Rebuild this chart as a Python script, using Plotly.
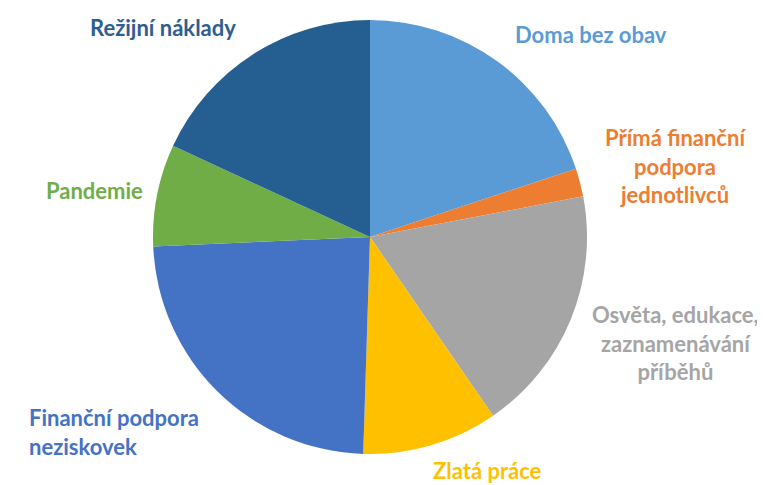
import plotly.graph_objects as go

categories = ["Doma bez obav", "Přímá finanční podpora jednotlivců", "Osvěta, edukace, zaznamenávání příběhů",
              "Zlatá práce", "Finanční podpora neziskovek", "Pandemie", "Režijní náklady"]
values = [19.9, 2.1, 18.4, 10.1, 23.8, 7.6, 18.1]
colors = ["#5B9BD5", "#ED7D31", "#A5A5A5", "#FFC000", "#4472C4", "#70AD47", "#255E91"]
label_texts = ["Doma bez obav", "Přímá finanční<br>podpora<br>jednotlivců", "Osvěta, edukace,<br>zaznamenávání<br>příběhů",
               "Zlatá práce", "Finanční podpora<br>neziskovek", "Pandemie", "Režijní náklady"]
text_colors = ["#5B9BD5", "#ED7D31", "#A5A5A5", "#FFC000", "#4472C4", "#70AD47", "#2E5E8E"]

W, H = 765, 485
cx, cy, r = 362, 229, 217

fig = go.Figure(go.Pie(
    labels=categories, values=values, sort=False, direction="clockwise", rotation=0,
    marker=dict(colors=colors, line=dict(width=0)),
    textinfo="none", hoverinfo="label+percent", showlegend=False,
    domain=dict(x=[(cx - r) / W, (cx + r) / W], y=[(H - cy - r) / H, (H - cy + r) / H]),
))

# label anchor points (pixel coordinates from top-left of the figure) and alignment
label_pos = [(583, 26, "center"), (667, 158, "center"), (667, 335, "center"),
             (479, 462, "center"), (19, 424, "left"), (86, 182, "center"), (155, 20, "center")]
for txt, col, (px, py, al) in zip(label_texts, text_colors, label_pos):
    fig.add_annotation(
        x=px / W, y=1 - py / H, xref="paper", yref="paper", text="<b>" + txt + "</b>",
        showarrow=False, xanchor=al, yanchor="middle", align=al,
        font=dict(family="Lato", size=22, color=col),
    )

fig.update_layout(width=W, height=H, margin=dict(l=0, r=0, t=0, b=0),
                  paper_bgcolor="white", plot_bgcolor="white")
fig.write_html("out.html")
